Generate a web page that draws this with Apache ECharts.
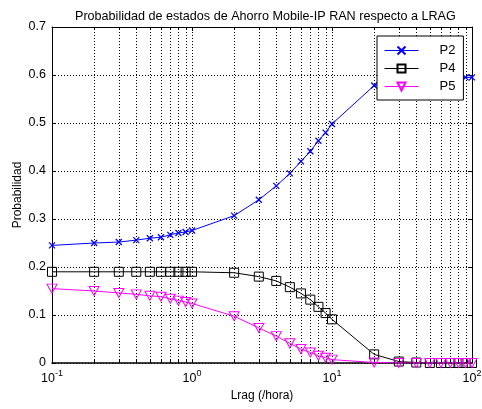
<!DOCTYPE html>
<html>
<head>
<meta charset="utf-8">
<script src="https://cdn.jsdelivr.net/npm/echarts@6/dist/echarts.min.js"></script>
<style>
html,body{margin:0;padding:0;background:#fff;}
#chart{width:482px;height:409px;}
</style>
</head>
<body>
<div id="chart"></div>
<script>
// Data
const lrag = [0.1,0.2,0.3,0.4,0.5,0.6,0.7,0.8,0.9,1,2,3,4,5,6,7,8,9,10,20,30,40,50,60,70,80,90,100];
const P2 = [0.245,0.250,0.252,0.256,0.260,0.262,0.267,0.271,0.273,0.276,0.307,0.340,0.369,0.395,0.420,0.441,0.463,0.480,0.498,0.578,0.587,0.590,0.592,0.593,0.594,0.594,0.595,0.595];
const P4 = [0.190,0.190,0.190,0.190,0.190,0.190,0.190,0.190,0.190,0.190,0.188,0.180,0.171,0.158,0.145,0.132,0.117,0.104,0.091,0.018,0.003,0.001,0,0,0,0,0,0];
const P5 = [0.155,0.150,0.146,0.143,0.140,0.138,0.134,0.130,0.127,0.124,0.0975,0.073,0.056,0.041,0.029,0.022,0.015,0.011,0.007,0.001,0,0,0,0,0,0,0,0];
const seriesNames = ['P2','P4','P5'];
const xGridTicks = [0.2,0.3,0.4,0.5,0.6,0.7,0.8,0.9,1,2,3,4,5,6,7,8,9,10,20,30,40,50,60,70,80,90];
const yMin = 0, yMax = 0.7, yStep = 0.1;
const xMin = 0.1, xMax = 100;

const font = 'Liberation Sans, Arial, Helvetica, sans-serif';
const pair = (ys) => lrag.map((x, i) => [x, ys[i]]);

const chart = echarts.init(document.getElementById('chart'), null, {renderer: 'canvas'});

const expLabel = (v) => {
  const e = Math.round(Math.log10(v));
  return '{b|10}{s|' + e + '}';
};

const option = {
  animation: false,
  backgroundColor: '#fff',
  textStyle: {fontFamily: font},
  title: {
    text: 'Probabilidad de estados de Ahorro Mobile-IP RAN respecto a LRAG',
    left: 70, top: 5,
    textStyle: {fontFamily: font, fontSize: 12.6, fontWeight: 'normal', color: '#000'}
  },
  grid: {left: 52, right: 10, top: 27, bottom: 46, outerBoundsMode: 'none', containLabel: false},
  legend: {
    orient: 'vertical',
    left: 377, top: 36,
    padding: [8, 8, 7, 7],
    itemWidth: 34, itemHeight: 10, itemGap: 5,
    backgroundColor: '#fff',
    borderColor: '#000', borderWidth: 1,
    lineStyle: {width: 1},
    textStyle: {fontFamily: font, fontSize: 13, color: '#000', padding: [0, 0, 0, 16]},
    data: seriesNames
  },
  xAxis: [{
    type: 'log', logBase: 10, min: xMin, max: xMax,
    position: 'bottom',
    name: 'Lrag (/hora)', nameLocation: 'middle', nameGap: 25,
    nameTextStyle: {fontFamily: font, fontSize: 12, color: '#000'},
    axisLine: {show: true, onZero: false, lineStyle: {color: '#000', width: 1.5}},
    axisTick: {show: true, inside: true, length: 4, lineStyle: {color: '#000'}},
    splitLine: {show: false},
    axisLabel: {
      color: '#000', margin: 6,
      formatter: expLabel,
      rich: {
        b: {fontFamily: font, fontSize: 12.5, color: '#000', lineHeight: 16, verticalAlign: 'bottom'},
        s: {fontFamily: font, fontSize: 9, color: '#000', lineHeight: 16, verticalAlign: 'top'}
      }
    }
  }, {
    type: 'log', logBase: 10, min: xMin, max: xMax,
    position: 'top',
    axisLine: {show: true, onZero: false, lineStyle: {color: '#000', width: 1}},
    axisTick: {show: true, inside: true, length: 4, lineStyle: {color: '#000'}},
    axisLabel: {show: false},
    splitLine: {show: false}
  }],
  yAxis: [{
    type: 'value', min: yMin, max: yMax, interval: yStep,
    position: 'left',
    name: 'Probabilidad', nameLocation: 'middle', nameGap: 28,
    nameMoveOverlap: false,
    nameTextStyle: {fontFamily: font, fontSize: 12, color: '#000'},
    axisLine: {show: true, onZero: false, lineStyle: {color: '#000', width: 1}},
    axisTick: {show: true, inside: true, length: 4, lineStyle: {color: '#000'}},
    axisLabel: {
      color: '#000', fontFamily: font, fontSize: 12.5, margin: 6,
      formatter: (v) => (v === 0 ? '0' : (+v.toFixed(1)).toString())
    },
    splitLine: {show: true, lineStyle: {color: '#000', type: [1, 2], width: 1}}
  }, {
    type: 'value', min: yMin, max: yMax, interval: yStep,
    position: 'right',
    axisLine: {show: true, onZero: false, lineStyle: {color: '#000', width: 1}},
    axisTick: {show: true, inside: true, length: 4, lineStyle: {color: '#000'}},
    axisLabel: {show: false},
    splitLine: {show: false}
  }],
  series: [{
    type: 'custom',
    name: 'xgrid',
    silent: true,
    z: 1,
    xAxisIndex: 0, yAxisIndex: 0,
    data: xGridTicks.map(v => [v, yMin]),
    renderItem: (params, api) => {
      const x = api.value(0);
      const p0 = api.coord([x, yMin]);
      const p1 = api.coord([x, yMax]);
      const px = Math.round(p0[0]) + 0.5;
      return {
        type: 'group',
        children: [
          {type: 'line', shape: {x1: px, y1: p0[1], x2: px, y2: p1[1]},
           style: {stroke: '#000', lineWidth: 1, lineDash: [1, 2]}},
          {type: 'line', shape: {x1: px, y1: p0[1], x2: px, y2: p0[1] - 3},
           style: {stroke: '#000', lineWidth: 1}},
          {type: 'line', shape: {x1: px, y1: p1[1], x2: px, y2: p1[1] + 3},
           style: {stroke: '#000', lineWidth: 1}}
        ]
      };
    }
  }, {
    type: 'line', name: 'P2', z: 3,
    xAxisIndex: 0, yAxisIndex: 0,
    data: pair(P2),
    symbol: 'path://M0,0L10,10M10,0L0,10',
    symbolSize: 6,
    showAllSymbol: true,
    lineStyle: {color: '#0000ff', width: 1},
    itemStyle: {color: '#0000ff', borderColor: '#0000ff', borderWidth: 1.3}
  }, {
    type: 'line', name: 'P4', z: 3,
    xAxisIndex: 0, yAxisIndex: 0,
    data: pair(P4),
    symbol: 'rect',
    symbolSize: 9,
    showAllSymbol: true,
    lineStyle: {color: '#000', width: 1},
    itemStyle: {color: 'rgba(0,0,0,0)', borderColor: '#000', borderWidth: 1}
  }, {
    type: 'line', name: 'P5', z: 3,
    xAxisIndex: 0, yAxisIndex: 0,
    data: pair(P5),
    symbol: 'path://M0,0L10,0L5,9Z',
    symbolSize: [10, 9],
    showAllSymbol: true,
    lineStyle: {color: '#ff00ff', width: 1},
    itemStyle: {color: 'rgba(0,0,0,0)', borderColor: '#ff00ff', borderWidth: 1}
  }]
};
chart.setOption(option);
</script>
</body>
</html>
